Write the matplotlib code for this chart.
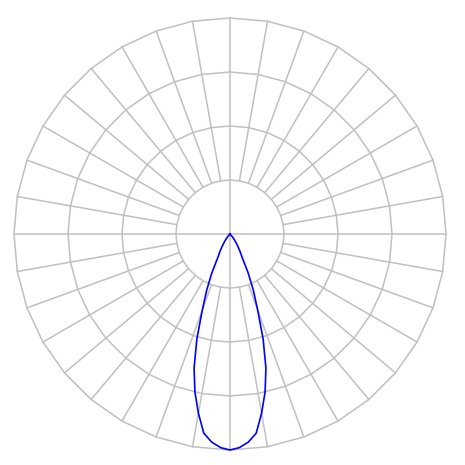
import numpy as np
from matplotlib import pyplot as plt

# angle from nadir (deg) and relative intensity (ring units, outer ring = 4)
angles = [0, 2.5, 5, 7.5, 10, 12.5, 15, 17.5, 20, 22.5, 25, 27.5, 30, 32.5, 35, 37.5, 40, 45]
intensity = [4.0, 3.96, 3.87, 3.72, 3.37, 3.0, 2.57, 2.04, 1.5, 1.13, 0.8, 0.48, 0.37, 0.27, 0.19, 0.13, 0.07, 0.0]

rings = [1, 2, 3, 4]
spoke_step = 10
grid_color = '#c0c0c0'

fig = plt.figure(figsize=(4.65, 4.65), dpi=100)
ax = fig.add_axes([14 / 465, 15 / 465, 432 / 465, 432 / 465], projection='polar')
ax.set_theta_zero_location('S')
ax.set_ylim(0, rings[-1])
ax.grid(False)
ax.set_xticks([])
ax.set_yticks([])
ax.spines['polar'].set_visible(False)

# polygonal rings
th = np.deg2rad(np.arange(0, 361, spoke_step))
for r in rings:
    ax.plot(th, np.full(len(th), r), color=grid_color, lw=1.1, clip_on=False, zorder=1)

# spokes from inner ring outwards, main axes through the centre
for a in range(0, 360, spoke_step):
    start = 0 if a % 90 == 0 else rings[0]
    ax.plot([np.deg2rad(a)] * 2, [start, rings[-1]], color=grid_color, lw=1.1,
            clip_on=False, zorder=1)

# symmetric distribution curve
a = np.array(angles)
v = np.array(intensity)
theta = np.deg2rad(np.concatenate([-a[::-1], a[1:]]))
rad = np.concatenate([v[::-1], v[1:]])
ax.plot(theta, rad, color='#0000ff', lw=1.2, zorder=3, clip_on=False)

fig.savefig('out.png', dpi=100)
